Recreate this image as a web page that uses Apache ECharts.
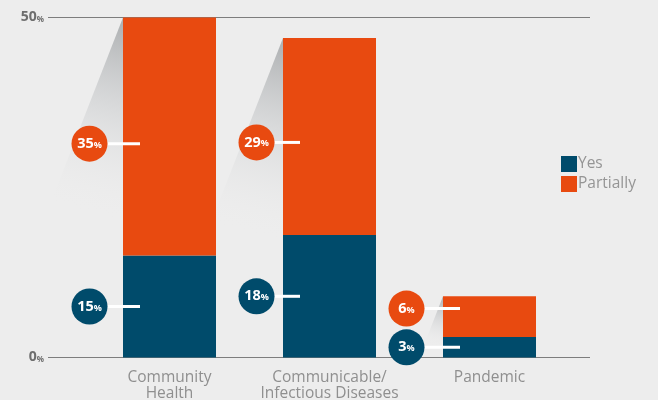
<!DOCTYPE html>
<html>
<head>
<meta charset="utf-8">
<script src="https://cdn.jsdelivr.net/npm/echarts@6/dist/echarts.min.js"></script>
<style>
  html, body { margin: 0; padding: 0; background: #ededed; }
  #chart { width: 658px; height: 400px; }
</style>
</head>
<body>
<div id="chart"></div>
<script>
// data
var categories = ["Community\nHealth", "Communicable/\nInfectious Diseases", "Pandemic"];
var yesValues = [15, 18, 3];
var partialValues = [35, 29, 6];
var yTicks = [0, 50];

var NAVY = "#004b6b";
var ORANGE = "#e84a10";
var BAR_W = 93;
// circle centre offset from bar centre, px
var LABEL_DX = [-80, -73, -83];

var totals = yesValues.map(function (v, i) { return v + partialValues[i]; });
var yesLabelY = yesValues.map(function (v) { return v / 2; });
var partLabelY = partialValues.map(function (v, i) {
  return Math.max(yesValues[i] + v * 0.47, yesLabelY[i] + 5.7);
});

function pct(v) { return "{n|" + v + "}{p|%}"; }

var circleRich = {
  n: { color: "#fff", fontSize: 14.5, fontWeight: "bold", fontFamily: "Open Sans" },
  p: { color: "#fff", fontSize: 9, fontWeight: "bold", fontFamily: "Open Sans", padding: [3, 0, 0, 0] }
};

function circleData(vals, ys) {
  return vals.map(function (v, i) {
    return {
      value: [i, ys[i]],
      symbolOffset: [LABEL_DX[i], 0],
      label: { formatter: pct(v) }
    };
  });
}

function lineData(ys) {
  return ys.map(function (y, i) {
    var start = LABEL_DX[i] + 18;
    var end = -BAR_W / 2 + 17;
    return {
      value: [i, y],
      symbolSize: [end - start, 3],
      symbolOffset: [(start + end) / 2, 0]
    };
  });
}

var myChart = echarts.init(document.getElementById("chart"));
myChart.setOption({
  backgroundColor: "#ededed",
  animation: false,
  grid: [
    { left: 48, right: 68, top: 17.5, bottom: 42.5, outerBoundsMode: "none" },
    { left: 89.5, right: 88.5, top: 17.5, bottom: 42.5, outerBoundsMode: "none" }
  ],
  legend: {
    data: ["Yes", "Partially"],
    orient: "vertical",
    left: 561,
    top: 156,
    padding: 0,
    itemWidth: 16,
    itemHeight: 16,
    itemGap: 4,
    icon: "rect",
    textStyle: { color: "#959595", fontSize: 15.5, fontFamily: "Open Sans", padding: [0, 0, 0, -4] }
  },
  xAxis: [
    { gridIndex: 0, type: "value", show: false, min: 0, max: 1 },
    {
      gridIndex: 1,
      type: "category",
      data: categories,
      axisLine: { show: false },
      axisTick: { show: false },
      axisLabel: {
        color: "#8f8f8f",
        fontSize: 15.5,
        lineHeight: 16,
        margin: 12,
        fontFamily: "Open Sans",
        interval: 0
      }
    }
  ],
  yAxis: [
    {
      gridIndex: 0,
      type: "value",
      min: yTicks[0],
      max: yTicks[1],
      interval: yTicks[1] - yTicks[0],
      axisLine: { show: false },
      axisTick: { show: false },
      splitLine: { show: true, lineStyle: { color: "#7d7d7d", width: 1.2 } },
      axisLabel: {
        margin: 4,
        formatter: function (v) { return pct(v); },
        rich: {
          n: { color: "#6e6e6e", fontSize: 14, fontWeight: "bold", fontFamily: "Open Sans" },
          p: { color: "#6e6e6e", fontSize: 8, fontWeight: "bold", fontFamily: "Open Sans", padding: [4, 0, 0, 0] }
        }
      }
    },
    { gridIndex: 1, type: "value", min: yTicks[0], max: yTicks[1], show: false }
  ],
  series: [
    {
      type: "custom",
      xAxisIndex: 1,
      yAxisIndex: 1,
      z: 1,
      silent: true,
      data: totals.map(function (t, i) { return [i, t]; }),
      renderItem: function (params, api) {
        var top = api.coord([api.value(0), api.value(1)]);
        var bottom = api.coord([api.value(0), 0]);
        var L = top[0] - BAR_W / 2;
        var H = Math.min(240, bottom[1] - top[1]);
        return {
          type: "polygon",
          shape: { points: [[L, top[1]], [L - 0.39 * H, top[1] + H], [L, top[1] + H]] },
          style: {
            fill: new echarts.graphic.LinearGradient(1, 0, 0.35, 1, [
              { offset: 0, color: "rgba(160,163,165,0.85)" },
              { offset: 0.4, color: "rgba(200,202,204,0.45)" },
              { offset: 0.8, color: "rgba(237,237,237,0)" }
            ])
          }
        };
      }
    },
    {
      name: "Yes",
      type: "bar",
      xAxisIndex: 1,
      yAxisIndex: 1,
      stack: "total",
      barWidth: BAR_W,
      z: 2,
      itemStyle: { color: NAVY },
      emphasis: { disabled: true },
      data: yesValues
    },
    {
      name: "Partially",
      type: "bar",
      xAxisIndex: 1,
      yAxisIndex: 1,
      stack: "total",
      barWidth: BAR_W,
      z: 2,
      itemStyle: { color: ORANGE },
      emphasis: { disabled: true },
      data: partialValues
    },
    {
      type: "scatter",
      xAxisIndex: 1,
      yAxisIndex: 1,
      z: 3,
      symbol: "rect",
      itemStyle: { color: "#fff", opacity: 1 },
      silent: true,
      data: lineData(yesLabelY).concat(lineData(partLabelY))
    },
    {
      type: "scatter",
      xAxisIndex: 1,
      yAxisIndex: 1,
      z: 4,
      symbol: "circle",
      symbolSize: 36,
      silent: true,
      itemStyle: { color: NAVY, opacity: 1 },
      label: { show: true, position: "inside", rich: circleRich },
      data: circleData(yesValues, yesLabelY)
    },
    {
      type: "scatter",
      xAxisIndex: 1,
      yAxisIndex: 1,
      z: 4,
      symbol: "circle",
      symbolSize: 36,
      silent: true,
      itemStyle: { color: ORANGE, opacity: 1 },
      label: { show: true, position: "inside", rich: circleRich },
      data: circleData(partialValues, partLabelY)
    }
  ]
});
window.addEventListener("resize", function () {
  myChart.resize();
});
</script>
</body>
</html>
